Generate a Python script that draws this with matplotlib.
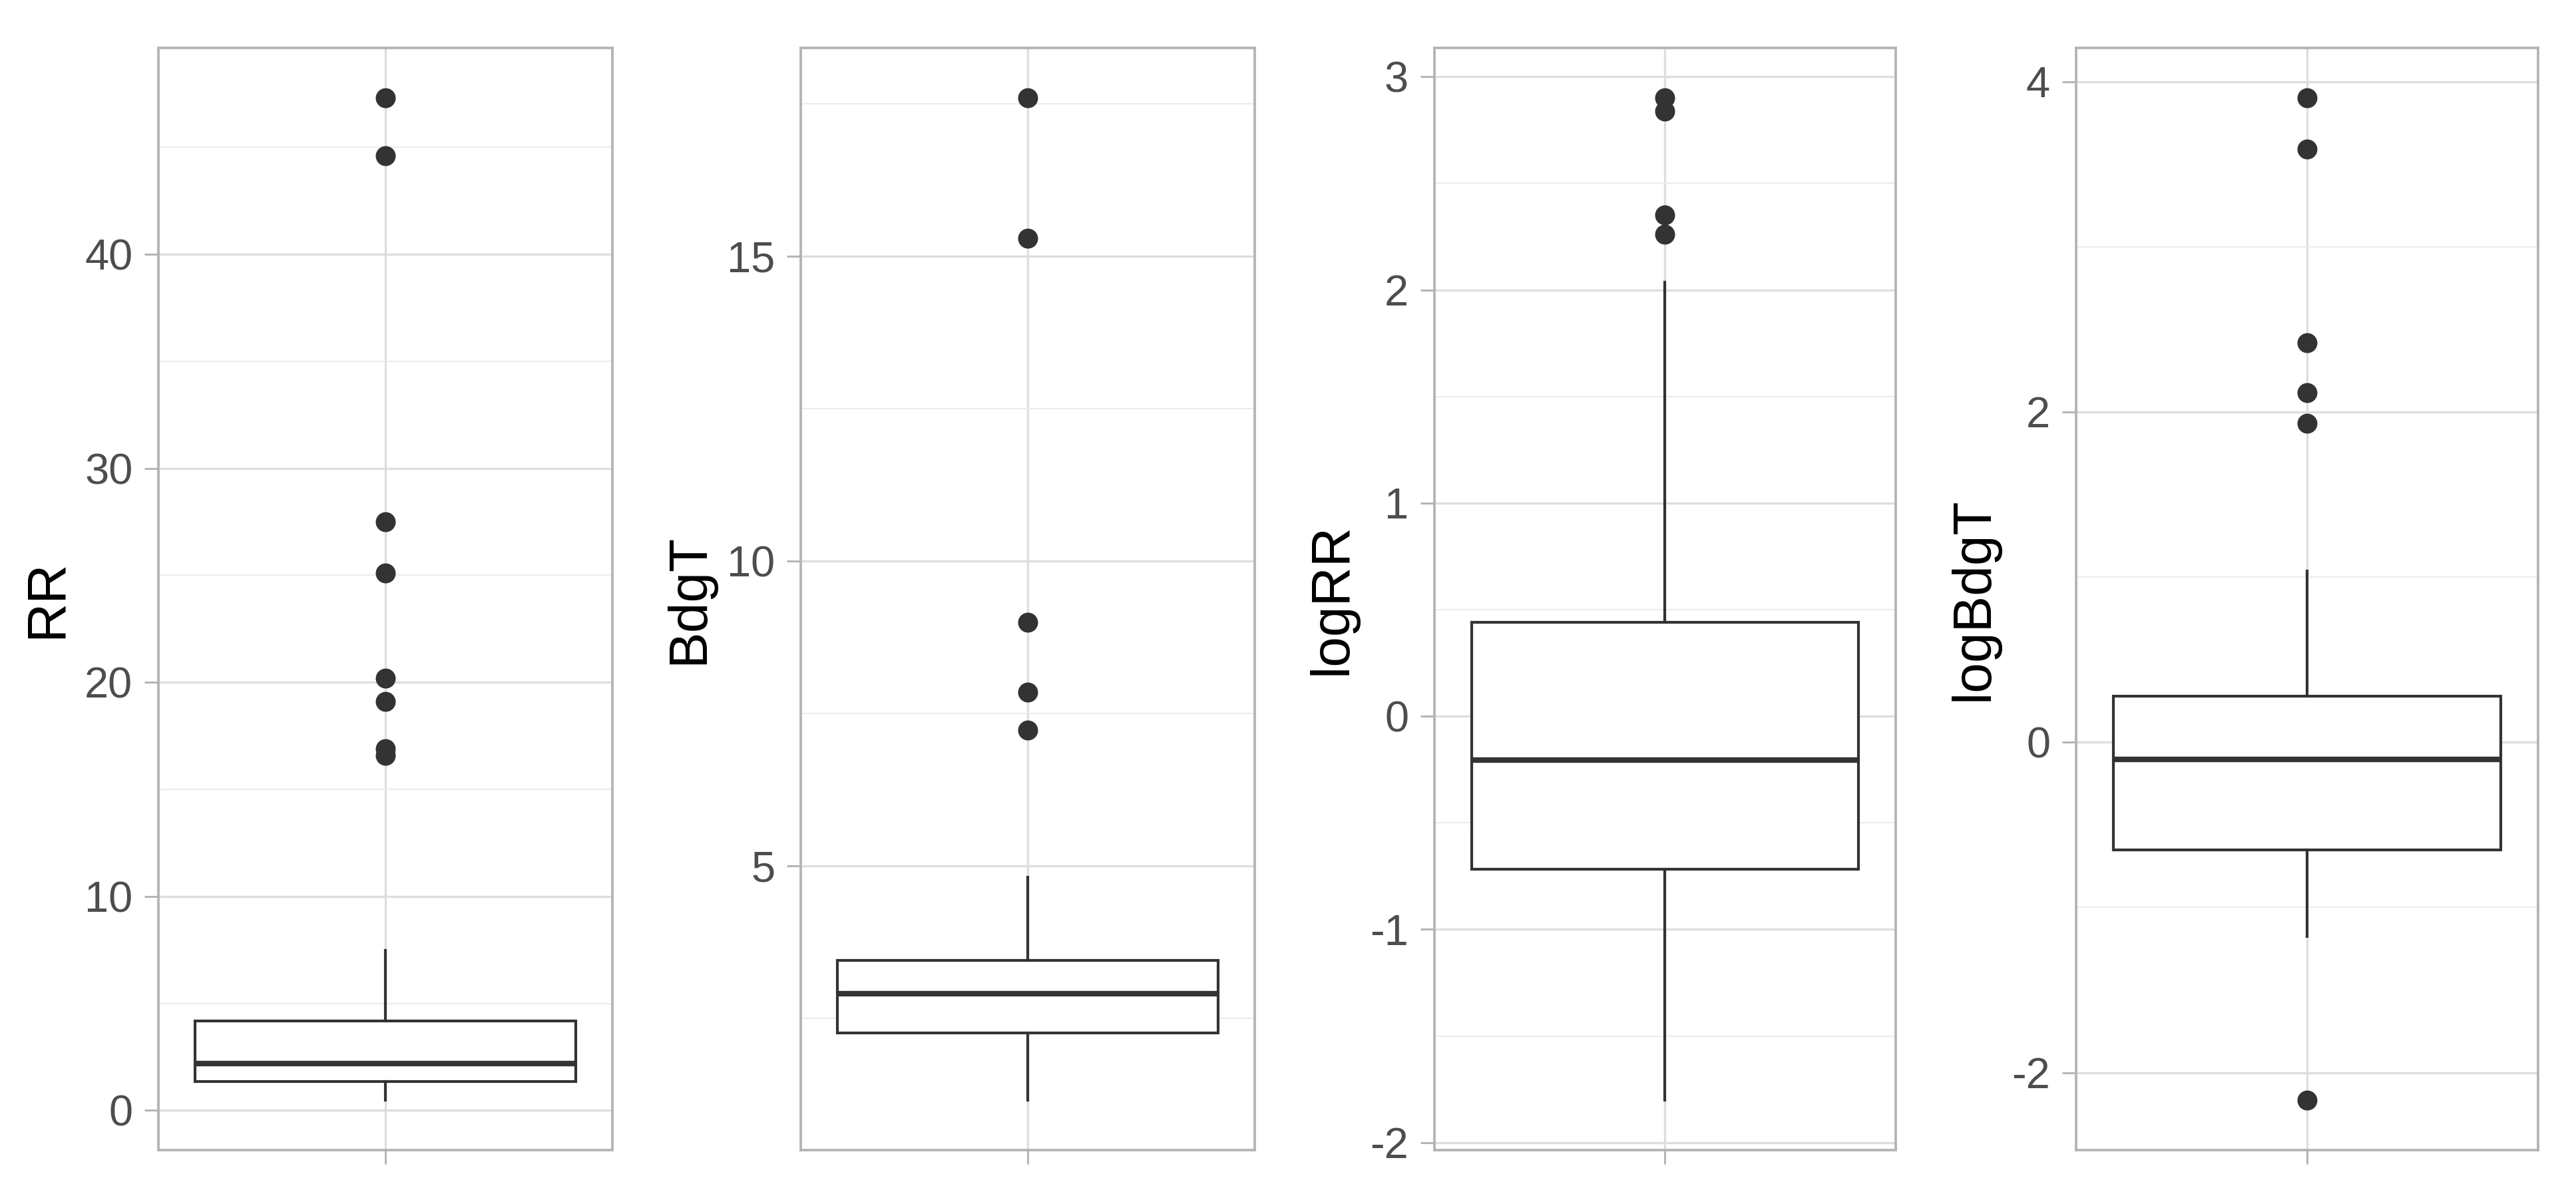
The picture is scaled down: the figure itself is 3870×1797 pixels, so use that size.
import matplotlib
matplotlib.use("Agg")
import matplotlib.pyplot as plt
from matplotlib.ticker import MultipleLocator

plt.rcParams["font.family"] = ["Liberation Sans", "DejaVu Sans"]
plt.rcParams["axes.unicode_minus"] = False

# boxplot summaries
names = ["RR", "BdgT", "logRR", "logBdgT"]
whislo = [0.49, 1.16, -1.80, -1.175]
q1 = [1.36, 2.26, -0.718, -0.65]
med = [2.2, 2.90, -0.207, -0.106]
q3 = [4.18, 3.45, 0.44, 0.28]
whishi = [7.47, 4.81, 2.036, 1.037]
fliers = [
    [47.3, 44.6, 27.5, 25.1, 20.2, 19.1, 16.9, 16.6],
    [17.6, 15.3, 9.0, 7.85, 7.23],
    [2.9, 2.84, 2.35, 2.26],
    [3.9, 3.59, 2.42, 2.115, 1.93, -2.166],
]
major_step = [10, 5, 1, 2]

# panel placement (figure fractions)
lefts = [0.0615, 0.3109, 0.5568, 0.8059]
widths = [0.1762, 0.1762, 0.1791, 0.1793]
bottom = 0.0384
height = 0.9215

dark = "#333333"
border = "#B3B3B3"

fig = plt.figure(figsize=(12.9, 5.99), dpi=300)

for i, name in enumerate(names):
    ax = fig.add_axes([lefts[i], bottom, widths[i], height])
    stats = [{
        "whislo": whislo[i], "q1": q1[i], "med": med[i],
        "q3": q3[i], "whishi": whishi[i], "fliers": fliers[i],
    }]
    ax.bxp(
        stats, positions=[0], widths=0.75, patch_artist=True, showcaps=False,
        boxprops=dict(facecolor="white", edgecolor=dark, linewidth=1.0),
        medianprops=dict(color=dark, linewidth=2.0),
        whiskerprops=dict(color=dark, linewidth=1.0),
        flierprops=dict(marker="o", markersize=7.2, markerfacecolor=dark,
                        markeredgecolor=dark, markeredgewidth=0, linestyle="none"),
    )
    ax.set_xlim(-0.4475, 0.4475)
    ax.set_xticks([0])
    ax.set_xticklabels([""])

    ax.yaxis.set_major_locator(MultipleLocator(major_step[i]))
    ax.yaxis.set_minor_locator(MultipleLocator(major_step[i] / 2))

    ax.set_axisbelow(True)
    ax.grid(which="major", color="#DEDEDE", linewidth=0.8)
    ax.grid(which="minor", axis="y", color="#EBEBEB", linewidth=0.5)

    for sp in ax.spines.values():
        sp.set_color(border)
        sp.set_linewidth(0.9)

    ax.tick_params(which="major", length=5, width=0.7, color=border,
                   labelcolor="#4D4D4D", labelsize=15.6, pad=4.3)
    ax.tick_params(which="minor", length=0)

    ax.set_ylabel(name, fontsize=19.7, color="black", labelpad=4.5)

fig.savefig("out.png", dpi=300, facecolor="white")
